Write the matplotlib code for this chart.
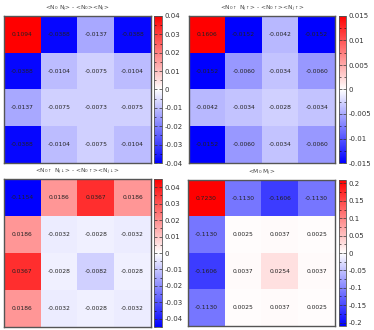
import matplotlib
matplotlib.use("Agg")
import matplotlib.pyplot as plt
import numpy as np
from matplotlib.ticker import AutoMinorLocator

# 4x4 correlation maps
nn = [[0.1094, -0.0388, -0.0137, -0.0388],
      [-0.0388, -0.0104, -0.0075, -0.0104],
      [-0.0137, -0.0075, -0.0073, -0.0075],
      [-0.0388, -0.0104, -0.0075, -0.0104]]
nupup = [[0.1606, -0.0152, -0.0042, -0.0152],
         [-0.0152, -0.0060, -0.0034, -0.0060],
         [-0.0042, -0.0034, -0.0028, -0.0034],
         [-0.0152, -0.0060, -0.0034, -0.0060]]
nupdn = [[-0.1154, 0.0186, 0.0367, 0.0186],
         [0.0186, -0.0032, -0.0028, -0.0032],
         [0.0367, -0.0028, -0.0082, -0.0028],
         [0.0186, -0.0032, -0.0028, -0.0032]]
mm = [[0.7230, -0.1130, -0.1606, -0.1130],
      [-0.1130, 0.0025, 0.0037, 0.0025],
      [-0.1606, 0.0037, 0.0254, 0.0037],
      [-0.1130, 0.0025, 0.0037, 0.0025]]

titles = [r"<N$_0$ N$_j$> - <N$_0$><N$_j$>",
          r"<N$_{0\uparrow}$ N$_{j\uparrow}$> - <N$_{0\uparrow}$><N$_{j\uparrow}$>",
          r"<N$_{0\uparrow}$ N$_{j\downarrow}$> - <N$_{0\uparrow}$><N$_{j\downarrow}$>",
          r"<M$_0$ M$_j$>"]
limits = [0.04, 0.015, 0.045, 0.21]
cticks = [np.arange(-0.04, 0.0401, 0.01),
          np.arange(-0.015, 0.0151, 0.005),
          np.arange(-0.04, 0.0401, 0.01),
          np.arange(-0.2, 0.201, 0.05)]

# pixel boxes: (left, top, right, bottom) for heatmap and colorbar
W, H = 374, 330
boxes = [((4, 16, 151, 163), (154, 16, 162, 163)),
         ((189, 16, 335, 163), (339, 16, 346, 163)),
         ((4, 179, 151, 327), (154, 179, 162, 327)),
         ((188, 180, 335, 326), (339, 180, 346, 326))]

def frac(b):
    l, t, r, bt = b
    return [l / W, (H - bt) / H, (r - l) / W, (bt - t) / H]

fig = plt.figure(figsize=(W / 100, H / 100), dpi=100)
plt.rcParams["font.family"] = ["DejaVu Sans"]

def fmt(v):
    return "%.4f" % v

for data, title, lim, tk, (hb, cb) in zip([nn, nupup, nupdn, mm], titles, limits, cticks, boxes):
    ax = fig.add_axes(frac(hb))
    arr = np.array(data)
    im = ax.imshow(arr, cmap="bwr", vmin=-lim, vmax=lim, aspect="auto",
                   interpolation="nearest")
    for i in range(arr.shape[0]):
        for j in range(arr.shape[1]):
            ax.text(j, i, fmt(arr[i, j]), ha="center", va="center",
                    fontsize=4.3, color="#222222")
    ax.set_xticks([])
    ax.set_yticks([])
    for s in ax.spines.values():
        s.set_color("#555555")
        s.set_linewidth(1.0)
    ax.set_title(title, fontsize=4.2, color="#444444", pad=4)

    cax = fig.add_axes(frac(cb))
    c = fig.colorbar(im, cax=cax, ticks=tk)
    c.ax.set_yticklabels(["%g" % round(t, 4) if abs(t) > 1e-9 else "0" for t in tk])
    c.ax.tick_params(labelsize=5, direction="in", length=2.5, width=0.5,
                     left=True, right=True, colors="#333333", pad=2)
    c.ax.yaxis.set_minor_locator(AutoMinorLocator(2))
    c.ax.tick_params(which="minor", direction="in", length=1.5, width=0.4,
                     left=True, right=True)
    c.outline.set_edgecolor("#555555")
    c.outline.set_linewidth(0.6)

fig.savefig("out.png", dpi=100)
